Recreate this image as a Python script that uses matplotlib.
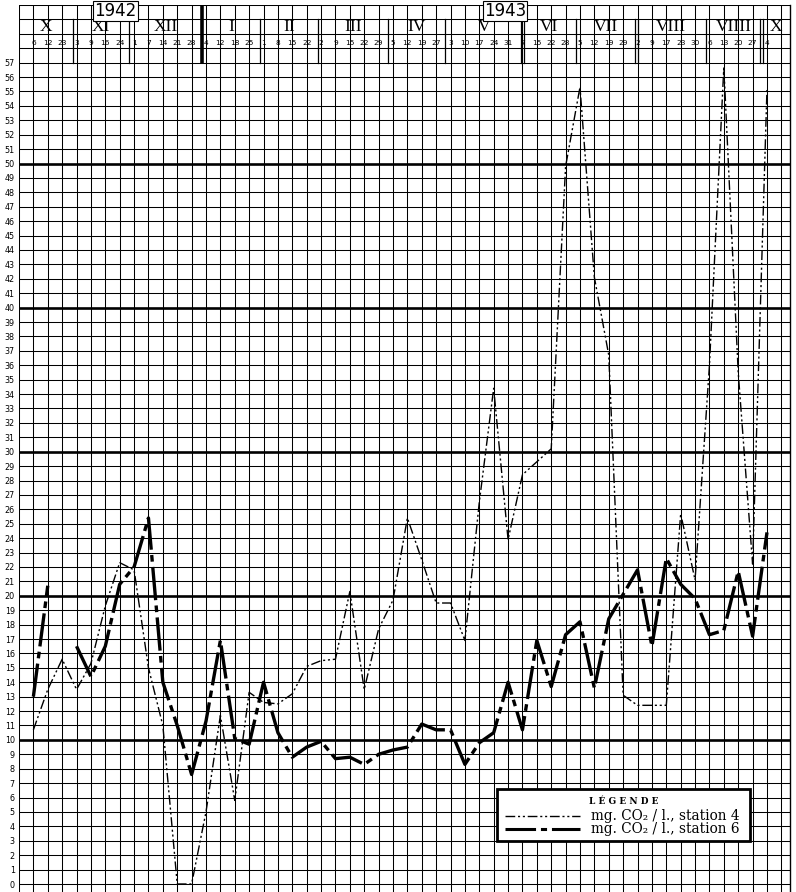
import numpy as np
import matplotlib
matplotlib.use("Agg")
import matplotlib.pyplot as plt
from matplotlib.patches import Rectangle

# ---------------- data ----------------
months = ["X", "XI", "XII", "I", "II", "III", "IV", "V", "VI", "VII", "VIII", "VIIII", "X"]
month_days = [[6, 12, 23], [3, 9, 16, 24], [1, 7, 14, 21, 28], [4, 12, 18, 25],
              [1, 8, 15, 22], [2, 9, 15, 22, 29], [5, 12, 19, 27], [3, 10, 17, 24, 31],
              [7, 15, 22, 28], [5, 12, 19, 29], [2, 9, 17, 23, 30], [6, 13, 20, 27], [4]]
years = ["1942", "1943"]

# mg CO2 / l., station 4 (thin dash-dot-dot line)
station4 = [10.7, 13.5, 15.6, 13.5, 15.3, 19.3, 22.3, 21.8, 15.0, 11.0,
            0.0, 0.0, 5.0, 11.7, 5.8, 13.3, 12.6, 12.5, 13.2, 15.1,
            15.5, 15.6, 20.3, 13.5, 17.7, 19.7, 25.4, 22.5, 19.5, 19.5,
            16.9, 26.5, 34.4, 23.9, 28.4, 29.3, 30.2, 49.8, 55.3, 42.1,
            36.7, 13.1, 12.4, 12.4, 12.4, 25.7, 21.1, 36.0, 56.7, 35.5,
            22.2, 55.2]
# mg CO2 / l., station 6 (thick dash-dot line)
station6 = [13.0, 20.7, np.nan, 16.5, 14.4, 16.5, 20.8, 22.0, 25.4, 14.0,
            11.0, 7.6, 11.3, 16.9, 10.1, 9.7, 14.0, 10.5, 8.8, 9.5,
            9.9, 8.7, 8.8, 8.3, 9.0, 9.3, 9.5, 11.1, 10.7, 10.7,
            8.3, 9.8, 10.5, 14.0, 10.7, 16.9, 13.7, 17.3, 18.2, 13.6,
            18.4, 20.1, 21.8, 16.5, 22.6, 20.8, 19.8, 17.3, 17.6, 21.7,
            17.2, 24.4]
y_tick_values = list(range(0, 58))

# ---------------- layout constants ----------------
month_sep_pos = [2.73, 6.67, 11.7, 15.76, 19.77, 24.68, 28.63, 33.98, 37.73, 41.9, 46.77, 50.6]
double_seps = {33.98, 41.9, 50.6}
year_sep = 11.7
XMIN, XMAX = -1, 52.6
YMIN, YMAX = -0.555, 61

day_labels = [str(d) for grp in month_days for d in grp]
x = np.arange(len(day_labels))

fig = plt.figure(figsize=(7.96, 8.92), dpi=100)
ax = fig.add_axes([19 / 796, 0, (790 - 19) / 796, (892 - 5) / 892])
ax.set_xlim(XMIN, XMAX)
ax.set_ylim(YMIN, YMAX)

# graph-paper grid
for v in range(-1, 53):
    ax.axvline(v, color="black", lw=0.75, zorder=1)
for h in range(0, 62):
    lw = 1.9 if (h % 10 == 0 and 0 < h < 60) else 0.75
    ax.axhline(h, color="black", lw=lw, zorder=1)

# month separators in header
for s in month_sep_pos:
    if s == year_sep:
        ax.plot([s, s], [57, 61], color="black", lw=2.6, zorder=2, solid_capstyle="butt")
    elif s in double_seps:
        for off in (-0.11, 0.11):
            ax.plot([s + off, s + off], [57, 60], color="black", lw=0.9, zorder=2)
    else:
        ax.plot([s, s], [57, 60], color="black", lw=0.9, zorder=2)

# month labels
edges = [XMIN] + month_sep_pos + [XMAX]
for i, m in enumerate(months):
    cx = (edges[i] + edges[i + 1]) / 2
    ax.text(cx, 59.45, m, ha="center", va="center", fontsize=12.5,
            family="Liberation Serif", zorder=3)

# day labels
for xi, lab in zip(x, day_labels):
    ax.text(xi, 58.35, lab, ha="center", va="center", fontsize=5.3,
            family="DejaVu Sans", zorder=3)

# year labels
for xc, yr in zip([5.7, 32.8], years):
    ax.text(xc, 60.55, yr, ha="center", va="center", fontsize=12,
            family="DejaVu Sans", zorder=4,
            bbox=dict(boxstyle="square,pad=0.06", facecolor="white",
                      edgecolor="black", lw=0.8))

# data lines
ax.plot(x, station4, color="black", lw=1.0, dashes=(7, 2, 1.5, 2, 1.5, 2), zorder=5)
ax.plot(x, station6, color="black", lw=2.4, dashes=(10, 1.6, 2, 1.6), zorder=6)

# y tick labels
ax.set_yticks(y_tick_values)
ax.set_yticklabels([str(v) for v in y_tick_values], fontsize=5.8)
ax.tick_params(axis="y", length=0, pad=3)
ax.set_xticks([])

for sp in ["top", "bottom", "left"]:
    ax.spines[sp].set_visible(False)
ax.spines["right"].set_linewidth(1.0)

# legend (manual box)
lx0, lx1 = 32.25, 49.8
ly0, ly1 = 2.98, 6.6
ax.add_patch(Rectangle((lx0, ly0), lx1 - lx0, ly1 - ly0, facecolor="white",
                       edgecolor="black", lw=2.0, zorder=8))
ax.text((lx0 + lx1) / 2, 5.75, "L É G E N D E", ha="center", va="center",
        fontsize=6.5, weight="bold", family="DejaVu Serif", zorder=9)
ax.plot([32.8, 38.0], [4.7, 4.7], color="black", lw=1.0,
        dashes=(7, 2, 1.5, 2, 1.5, 2), zorder=9)
ax.plot([32.8, 38.0], [3.8, 3.8], color="black", lw=2.2,
        dashes=(10, 1.6, 2, 1.6), zorder=9)
ax.text(38.8, 4.72, "mg. CO₂ / l., station 4", ha="left", va="center",
        fontsize=9.8, family="DejaVu Serif", zorder=9)
ax.text(38.8, 3.82, "mg. CO₂ / l., station 6", ha="left", va="center",
        fontsize=9.8, family="DejaVu Serif", zorder=9)

fig.savefig("out.png", dpi=100)
